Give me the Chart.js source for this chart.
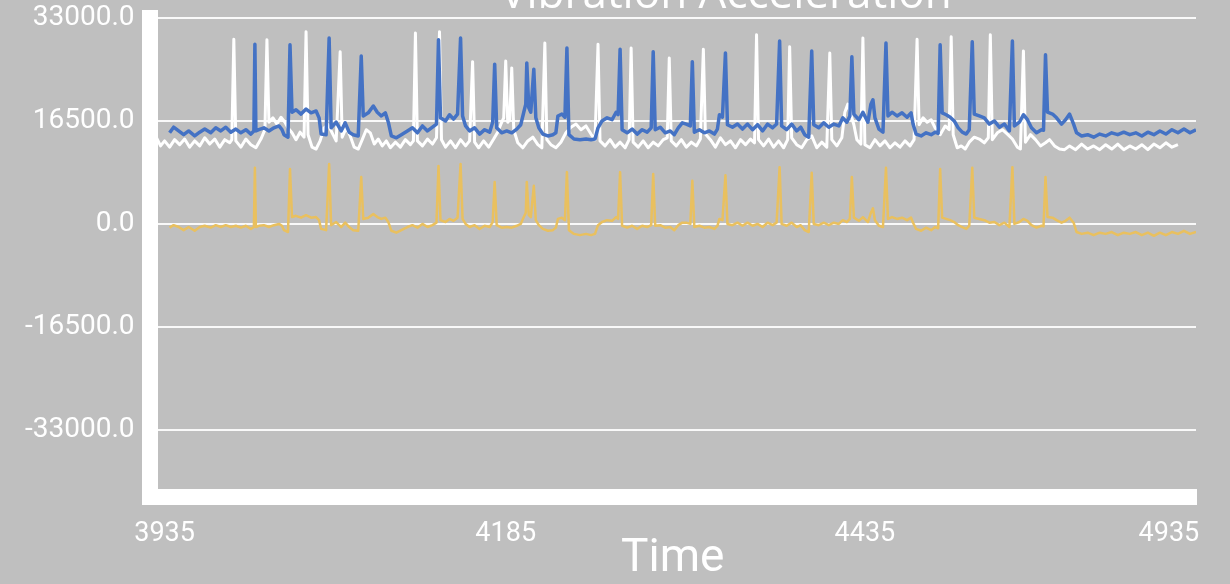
<!DOCTYPE html>
<html>
<head>
<meta charset="utf-8">
<script src="https://cdn.jsdelivr.net/npm/chart.js@4"></script>
<style>
  html, body { margin: 0; padding: 0; background: #bfbfbf; }
  #wrap { width: 1230px; height: 584px; position: relative; }
</style>
</head>
<body>
<div id="wrap"><canvas id="vibChart"></canvas></div>
<script>
// 차트 데이터 (샘플 번호, 가속도)
const chartTitle = "Vibration Acceleration";
const xTitle = "Time";
const xTickAt = [0, 340, 698, 1001];
const xTickLabels = ["3935", "4185", "4435", "4935"];
const yTicks = [33000, 16500, 0, -16500, -33000];

const blueSeries = [[5,14600],[9,15500],[14,14900],[19,14300],[24,14900],[30,14100],[35,14700],[40,15200],[46,14600],[51,15400],[56,14900],[61,15500],[66,14700],[71,15200],[76,14600],[81,15100],[86,14400],[89,14900],[90,28800],[91,14900],[94,15100],[99,15400],[104,14900],[109,15400],[114,15700],[117,15100],[119,14300],[123,13900],[125,28700],[127,17900],[131,18300],[136,17600],[141,18400],[146,17800],[151,18100],[154,17000],[156,14400],[161,14300],[164,29800],[166,15400],[171,16300],[176,14900],[180,16200],[184,14700],[188,14300],[193,14100],[196,26900],[198,17300],[203,17800],[208,18900],[212,17900],[216,17300],[220,17800],[223,16300],[226,14100],[231,13800],[236,14300],[242,14900],[247,15400],[252,14600],[257,15700],[262,14900],[267,15500],[271,16000],[273,29500],[275,17000],[280,16500],[284,17500],[288,16800],[292,17600],[295,29800],[297,17300],[300,15700],[304,14900],[309,15400],[314,14400],[319,15100],[324,14700],[327,16300],[329,25600],[331,15400],[336,14600],[341,14900],[346,14600],[351,15200],[355,15900],[358,17900],[360,19200],[361,25800],[363,18600],[365,17900],[368,24800],[370,17000],[373,15400],[377,14400],[382,14100],[387,14300],[390,14600],[392,17300],[396,17600],[399,17100],[401,28200],[403,14300],[408,13600],[414,13500],[420,13600],[425,13500],[429,13600],[432,15400],[436,16500],[441,17000],[446,16700],[450,17900],[452,17500],[454,28000],[456,15100],[461,14600],[466,15200],[471,14400],[476,15100],[481,14700],[485,15400],[487,27600],[489,15100],[494,15500],[499,14600],[504,14900],[508,14300],[512,15400],[516,16200],[520,16000],[524,15700],[526,26000],[528,14700],[533,15100],[538,14600],[543,14900],[548,14400],[551,15200],[553,17500],[556,17100],[559,27400],[561,15900],[566,15500],[571,16000],[576,15200],[581,16000],[586,15100],[591,15900],[596,14900],[601,16000],[606,15400],[610,16000],[613,29300],[615,15700],[620,15100],[625,16000],[630,14900],[634,15500],[638,14300],[642,13900],[645,27700],[647,15900],[652,15400],[657,16200],[662,15500],[667,16000],[672,15700],[676,17000],[680,16300],[683,17300],[685,26800],[687,17600],[692,16700],[696,17900],[701,16300],[704,19200],[706,19900],[708,17000],[712,15200],[716,14700],[719,29000],[721,17300],[725,17900],[730,17300],[735,17800],[740,17100],[744,17800],[746,16000],[749,14400],[754,14100],[759,14600],[764,14300],[768,14700],[771,14500],[773,28700],[775,17800],[779,17500],[783,17100],[787,16500],[791,15400],[795,14700],[799,14400],[802,15100],[805,29200],[807,17600],[812,17300],[817,17000],[822,16000],[827,16500],[832,15500],[837,16000],[842,14900],[845,29300],[847,15700],[852,16300],[856,17500],[860,16700],[864,15400],[869,14600],[874,15100],[876,15000],[878,27100],[880,17900],[885,17600],[889,17000],[894,16000],[898,16700],[902,17600],[906,16000],[909,14600],[914,14100],[920,14300],[926,13900],[932,14400],[938,14100],[944,14600],[950,14300],[956,14700],[962,14300],[968,14600],[974,14100],[980,14700],[986,14300],[992,14900],[998,14400],[1004,15100],[1010,14600],[1016,15200],[1022,14600],[1028,15100],[1032,14700]];

const whiteSeries = [[-16,13500],[-12,13000],[-8,13800],[-4,12500],[0,13300],[5,12300],[10,13500],[15,12700],[20,13600],[25,12300],[30,13300],[35,12500],[40,13800],[45,12800],[50,13600],[55,12300],[60,13500],[65,13000],[67,13500],[69,29600],[71,13300],[76,12300],[81,13600],[86,12700],[91,12200],[96,13600],[100,15100],[102,29500],[104,16300],[108,17000],[112,16000],[116,17100],[120,16300],[123,15400],[127,14600],[131,13500],[135,14700],[139,13900],[141,30800],[143,14300],[147,12300],[151,12000],[155,13300],[159,15400],[163,15900],[167,14600],[171,13300],[175,27600],[177,13900],[181,15400],[185,14100],[189,12300],[193,12000],[197,13500],[201,15100],[205,14600],[209,12800],[213,13600],[217,12500],[221,13300],[225,12200],[230,13100],[235,12300],[240,13500],[245,12700],[248,13300],[250,30600],[252,13300],[257,12500],[262,13600],[267,12800],[271,13800],[274,30800],[276,13500],[280,12300],[285,13300],[290,12200],[295,13500],[300,12500],[304,13300],[307,26000],[309,13100],[313,12200],[318,13300],[323,12300],[328,13600],[332,14700],[335,15900],[338,17000],[340,26100],[342,16300],[344,16700],[346,25000],[348,15100],[352,13000],[357,12200],[362,13300],[367,13900],[372,12700],[376,12200],[379,29000],[381,13500],[385,12700],[390,12200],[395,13100],[400,14600],[405,15500],[410,16000],[415,15100],[420,15700],[425,14400],[429,13500],[432,28800],[434,13300],[439,12500],[444,13500],[449,12300],[454,13100],[459,12200],[463,13500],[465,28200],[467,13100],[472,12300],[477,13300],[482,12200],[487,13100],[492,12500],[497,13500],[501,13800],[503,26600],[505,13300],[510,12500],[515,13500],[520,12300],[525,13100],[530,12500],[534,13600],[537,28000],[539,14400],[544,13500],[549,12300],[554,13800],[559,12700],[564,13300],[569,12200],[574,13500],[579,12700],[584,13600],[588,13000],[590,30300],[592,13500],[597,12500],[602,13600],[607,12300],[612,13300],[617,12200],[621,13500],[623,28400],[625,13800],[630,12700],[635,12200],[640,13500],[645,14100],[650,12200],[655,13100],[660,12300],[663,27400],[665,13500],[670,12500],[675,13800],[678,17900],[681,19200],[684,17500],[687,15900],[690,13500],[694,12800],[696,29800],[698,12700],[703,12200],[708,13500],[713,12500],[718,13300],[723,12200],[728,13000],[733,12300],[738,13300],[743,12500],[747,13500],[750,29600],[752,15900],[756,17000],[760,16300],[764,16700],[768,15400],[773,14300],[778,15700],[782,15100],[784,30000],[786,14300],[790,12200],[794,12500],[798,12000],[802,13100],[807,13900],[812,13600],[817,13000],[821,13800],[823,30300],[825,13500],[830,14600],[835,15100],[840,14400],[845,13600],[850,12300],[853,12000],[856,27700],[858,13100],[863,14300],[868,13500],[873,12500],[878,13000],[882,13500],[887,12500],[892,12000],[897,11900],[902,12500],[908,11900],[914,12800],[920,12000],[926,12500],[932,11900],[938,12700],[944,12000],[950,12800],[956,11900],[962,12500],[968,12000],[974,12700],[980,11900],[986,12800],[992,12200],[998,13000],[1004,12300],[1010,12700]];

const yellowSeries = [[5,-600],[9,-200],[14,-500],[19,-1000],[24,-500],[30,-1100],[35,-500],[40,-300],[46,-600],[51,-200],[56,-500],[61,-200],[66,-500],[71,-300],[76,-600],[81,-300],[86,-800],[89,-500],[90,9000],[91,-500],[94,-300],[99,-200],[104,-500],[109,-200],[114,0],[117,-300],[119,-1000],[123,-1300],[125,8800],[127,1100],[131,1300],[136,1000],[141,1400],[146,1000],[151,1100],[154,600],[156,-800],[161,-1000],[164,9600],[166,-200],[171,300],[176,-500],[180,200],[184,-500],[188,-1000],[193,-1100],[196,7500],[198,800],[203,1000],[208,1600],[212,1100],[216,800],[220,1000],[223,300],[226,-1100],[231,-1400],[236,-1000],[242,-500],[247,-200],[252,-600],[257,0],[262,-500],[267,-200],[271,200],[273,9300],[275,600],[280,300],[284,800],[288,500],[292,1000],[295,9600],[297,800],[300,0],[304,-500],[309,-200],[314,-800],[319,-300],[324,-500],[327,300],[329,6700],[331,-200],[336,-600],[341,-500],[346,-600],[351,-300],[355,0],[358,1100],[360,1800],[361,6700],[363,1400],[365,1100],[368,6100],[370,600],[373,-200],[377,-800],[382,-1100],[387,-1000],[390,-600],[392,800],[396,1000],[399,600],[401,8300],[403,-1000],[408,-1600],[414,-1800],[420,-1600],[425,-1800],[429,-1600],[432,-200],[436,300],[441,600],[446,500],[450,1100],[452,800],[454,8300],[456,-300],[461,-600],[466,-300],[471,-800],[476,-300],[481,-500],[485,-200],[487,8000],[489,-300],[494,-200],[499,-600],[504,-500],[508,-1000],[512,-200],[516,200],[520,200],[524,0],[526,6900],[528,-500],[533,-300],[538,-600],[543,-500],[548,-800],[551,-300],[553,800],[556,600],[559,7800],[561,0],[566,-200],[571,200],[576,-300],[581,200],[586,-300],[591,0],[596,-500],[601,200],[606,-200],[610,200],[613,9100],[615,0],[620,-300],[625,200],[630,-500],[634,-200],[638,-1000],[642,-1300],[645,8200],[647,0],[652,-200],[657,200],[662,-200],[667,200],[672,0],[676,600],[680,300],[683,800],[685,7500],[687,1000],[692,500],[696,1100],[701,300],[704,1800],[706,2500],[708,600],[712,-300],[716,-500],[719,9000],[721,800],[725,1100],[730,800],[735,1000],[740,600],[744,1000],[746,200],[749,-800],[754,-1100],[759,-600],[764,-1000],[768,-500],[771,-700],[773,8800],[775,1000],[779,800],[783,600],[787,300],[791,-200],[795,-500],[799,-800],[802,-300],[805,9000],[807,1000],[812,800],[817,600],[822,200],[827,300],[832,-200],[837,200],[842,-500],[845,9100],[847,0],[852,300],[856,800],[860,500],[864,-200],[869,-600],[874,-300],[876,-400],[878,7500],[880,1100],[885,1000],[889,600],[894,200],[898,500],[902,1000],[906,200],[909,-1300],[914,-1600],[920,-1400],[926,-1800],[932,-1400],[938,-1600],[944,-1300],[950,-1800],[956,-1400],[962,-1600],[968,-1300],[974,-1800],[980,-1400],[986,-1900],[992,-1400],[998,-1800],[1004,-1300],[1010,-1600],[1016,-1100],[1022,-1600],[1028,-1300],[1032,-1400]];

const toPoints = (arr) => arr.map(([x, y]) => ({ x, y }));

// 상단 제목 (잘려 보이는 위치)
const topTitle = {
  id: "topTitle",
  afterDraw(chart) {
    const { ctx } = chart;
    ctx.save();
    ctx.font = '44px "Open Sans"';
    ctx.fillStyle = "#ffffff";
    ctx.textAlign = "center";
    ctx.textBaseline = "alphabetic";
    ctx.fillText(chartTitle, 726, 8);
    ctx.restore();
  },
};

const ctx = document.getElementById("vibChart").getContext("2d");
const vibChart = new Chart(ctx, {
  type: "line",
  data: {
    datasets: [
      {
        label: "Y",
        data: toPoints(blueSeries),
        borderColor: "#4472c4",
        borderWidth: 3.5,
        pointRadius: 0,
        borderJoinStyle: "round",
      },
      {
        label: "X",
        data: toPoints(whiteSeries),
        borderColor: "#ffffff",
        borderWidth: 3,
        pointRadius: 0,
        borderJoinStyle: "round",
      },
      {
        label: "Z",
        data: toPoints(yellowSeries),
        borderColor: "#e9c05f",
        borderWidth: 2.5,
        pointRadius: 0,
        borderJoinStyle: "round",
      },
    ],
  },
  options: {
    responsive: true,
    maintainAspectRatio: false,
    animation: false,
    layout: { padding: { top: 18, left: 10, right: 34, bottom: 2 } },
    plugins: {
      legend: { display: false },
      tooltip: { enabled: false },
    },
    scales: {
      x: {
        type: "linear",
        min: -15,
        max: 1028,
        afterBuildTicks: (scale) => {
          scale.ticks = xTickAt.map((v) => ({ value: v }));
        },
        ticks: {
          autoSkip: false,
          maxRotation: 0,
          padding: 21,
          color: "#ffffff",
          font: { family: "Roboto", size: 27 },
          callback: (v, i) => xTickLabels[i],
        },
        grid: { display: false, drawTicks: false },
        border: { display: true, color: "#ffffff", width: 16 },
        title: {
          display: true,
          text: xTitle,
          color: "#ffffff",
          font: { family: "Roboto", size: 46, lineHeight: 1 },
          padding: { top: -35, bottom: 0 },
        },
      },
      y: {
        min: -43700,
        max: 33000,
        afterBuildTicks: (scale) => {
          scale.ticks = yTicks.map((v) => ({ value: v }));
        },
        ticks: {
          padding: 15,
          color: "#ffffff",
          font: { family: "Roboto", size: 28, lineHeight: 0.01 },
          callback: (v) => Number(v).toFixed(1),
        },
        grid: { color: "rgba(255,255,255,0.9)", lineWidth: 2, drawTicks: false },
        border: { display: true, color: "#ffffff", width: 16 },
      },
    },
  },
  plugins: [topTitle],
});
</script>
</body>
</html>
